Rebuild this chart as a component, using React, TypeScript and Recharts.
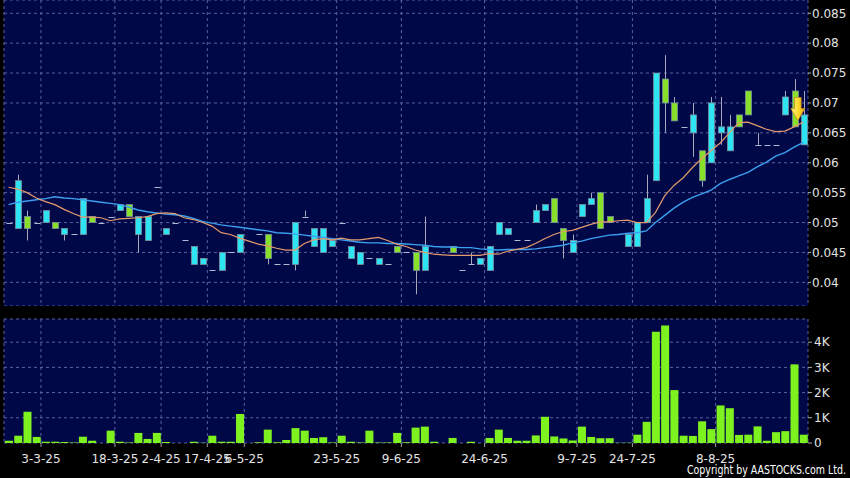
import React from 'react';
import { ComposedChart, Bar, Line, XAxis, YAxis, CartesianGrid, ReferenceDot } from 'recharts';

// ---- data (one entry per trading slot) ----
const opens: (number | null)[] = [
  0.050, 0.049, 0.051, 0.050, 0.050, 0.050, 0.048, 0.048, 0.048, 0.051,
  0.050, 0.051, 0.052, 0.053, 0.048, 0.047, 0.056, 0.048, 0.050, 0.047,
  0.043, 0.043, 0.042, 0.042, 0.045, 0.045, null, 0.048, 0.048, 0.043,
  0.043, 0.043, 0.051, 0.046, 0.045, 0.046, 0.050, 0.044, 0.043, 0.044,
  0.043, 0.043, 0.046, 0.045, 0.045, 0.042, null, null, 0.046, 0.042,
  0.043, 0.043, 0.042, 0.048, 0.048, 0.047, 0.047, 0.050, 0.052, 0.054,
  0.049, 0.045, 0.051, 0.053, 0.055, 0.051, null, 0.046, 0.046, 0.050,
  0.057, 0.074, 0.070, 0.066, 0.065, 0.062, 0.060, 0.065, 0.062, 0.068,
  0.072, 0.063, 0.063, 0.063, 0.068, 0.072, 0.063,
];
const highs: (number | null)[] = [
  0.050, 0.058, 0.052, 0.050, 0.052, 0.050, 0.049, 0.048, 0.054, 0.051,
  0.050, 0.051, 0.053, 0.053, 0.051, 0.051, 0.056, 0.049, 0.050, 0.047,
  0.046, 0.044, 0.042, 0.045, 0.045, 0.048, null, 0.048, 0.048, 0.043,
  0.043, 0.050, 0.052, 0.049, 0.049, 0.047, 0.050, 0.046, 0.045, 0.044,
  0.044, 0.043, 0.046, 0.045, 0.045, 0.051, null, null, 0.046, 0.042,
  0.045, 0.044, 0.046, 0.050, 0.049, 0.047, 0.047, 0.053, 0.053, 0.054,
  0.049, 0.048, 0.053, 0.055, 0.055, 0.051, null, 0.048, 0.050, 0.058,
  0.075, 0.078, 0.071, 0.066, 0.070, 0.062, 0.071, 0.071, 0.068, 0.068,
  0.072, 0.065, 0.063, 0.063, 0.072, 0.074, 0.072,
];
const lows: (number | null)[] = [
  0.050, 0.049, 0.047, 0.050, 0.050, 0.049, 0.047, 0.048, 0.048, 0.050,
  0.050, 0.051, 0.052, 0.051, 0.045, 0.047, 0.056, 0.048, 0.050, 0.047,
  0.043, 0.043, 0.042, 0.042, 0.045, 0.045, null, 0.048, 0.043, 0.043,
  0.043, 0.042, 0.051, 0.046, 0.045, 0.046, 0.050, 0.044, 0.043, 0.044,
  0.043, 0.043, 0.045, 0.045, 0.038, 0.042, null, null, 0.045, 0.042,
  0.043, 0.043, 0.042, 0.048, 0.048, 0.047, 0.047, 0.050, 0.052, 0.050,
  0.044, 0.045, 0.051, 0.053, 0.049, 0.050, null, 0.046, 0.046, 0.050,
  0.057, 0.065, 0.067, 0.066, 0.061, 0.056, 0.060, 0.063, 0.062, 0.066,
  0.068, 0.063, 0.063, 0.063, 0.068, 0.066, 0.063,
];
const closes: (number | null)[] = [
  0.050, 0.057, 0.049, 0.050, 0.052, 0.049, 0.049, 0.048, 0.054, 0.050,
  0.050, 0.051, 0.053, 0.051, 0.051, 0.051, 0.056, 0.049, 0.050, 0.047,
  0.046, 0.044, 0.042, 0.045, 0.045, 0.048, null, 0.048, 0.044, 0.043,
  0.043, 0.050, 0.051, 0.049, 0.049, 0.047, 0.050, 0.046, 0.045, 0.044,
  0.044, 0.043, 0.045, 0.045, 0.042, 0.046, null, null, 0.045, 0.042,
  0.043, 0.044, 0.046, 0.050, 0.049, 0.047, 0.047, 0.052, 0.053, 0.050,
  0.047, 0.047, 0.053, 0.054, 0.049, 0.050, null, 0.048, 0.050, 0.054,
  0.075, 0.070, 0.067, 0.066, 0.068, 0.057, 0.070, 0.066, 0.066, 0.066,
  0.068, 0.063, 0.063, 0.063, 0.071, 0.066, 0.068,
];
const ma10: number[] = [
  0.0559, 0.0556, 0.0550, 0.0541, 0.0535, 0.0530, 0.0522, 0.0515, 0.0509, 0.0509,
  0.0508, 0.0503, 0.0506, 0.0507, 0.0508, 0.0510, 0.0515, 0.0516, 0.0515, 0.0508,
  0.0505, 0.0500, 0.0494, 0.0483, 0.0480, 0.0474, 0.0469, 0.0464, 0.0461, 0.0457,
  0.0454, 0.0454, 0.0465, 0.0471, 0.0473, 0.0471, 0.0474, 0.0471, 0.0471, 0.0473,
  0.0475, 0.0470, 0.0464, 0.0460, 0.0454, 0.0450, 0.0447, 0.0446, 0.0445, 0.0445,
  0.0445, 0.0445, 0.0448, 0.0447, 0.0452, 0.0455, 0.0458, 0.0465, 0.0473, 0.0480,
  0.0485, 0.0487, 0.0492, 0.0497, 0.0501, 0.0501, 0.0503, 0.0504, 0.0500, 0.0500,
  0.0517, 0.0545, 0.0562, 0.0575, 0.0592, 0.0607, 0.0620, 0.0633, 0.0650, 0.0667,
  0.0668, 0.0662, 0.0656, 0.0652, 0.0653, 0.0660, 0.0668,
];
const ma20: number[] = [
  0.0530, 0.0534, 0.0536, 0.0538, 0.0540, 0.0543, 0.0541, 0.0540, 0.0538, 0.0536,
  0.0534, 0.0532, 0.0530, 0.0526, 0.0521, 0.0518, 0.0516, 0.0514, 0.0513, 0.0511,
  0.0507, 0.0502, 0.0499, 0.0496, 0.0494, 0.0492, 0.0490, 0.0488, 0.0486, 0.0483,
  0.0482, 0.0481, 0.0479, 0.0477, 0.0475, 0.0473, 0.0471, 0.0469, 0.0467, 0.0466,
  0.0466, 0.0465, 0.0465, 0.0464, 0.0463, 0.0462, 0.0460, 0.0459, 0.0459, 0.0458,
  0.0458, 0.0456, 0.0455, 0.0454, 0.0455, 0.0455, 0.0455, 0.0456, 0.0458, 0.0460,
  0.0462, 0.0466, 0.0469, 0.0473, 0.0476, 0.0479, 0.0480, 0.0482, 0.0483, 0.0486,
  0.0500, 0.0512, 0.0524, 0.0534, 0.0542, 0.0548, 0.0554, 0.0565, 0.0572, 0.0578,
  0.0584, 0.0593, 0.0601, 0.0611, 0.0617, 0.0626, 0.0634,
];
const volumes: number[] = [
  90, 290, 1240, 240, 50, 50, 40, 20, 250, 90,
  0, 490, 50, 20, 400, 160, 400, 40, 0, 0,
  50, 10, 290, 50, 50, 1150, 0, 30, 530, 30,
  120, 590, 490, 200, 230, 20, 290, 50, 20, 490,
  20, 20, 400, 30, 610, 650, 50, 0, 200, 0,
  50, 0, 200, 530, 200, 90, 90, 300, 1040, 260,
  180, 100, 650, 240, 190, 190, 10, 10, 330, 840,
  4410, 4660, 2100, 290, 280, 860, 550, 1490, 1380, 320,
  330, 660, 90, 430, 470, 3120, 330,
];

// x-axis date ticks (slot boundary before the dated slot)
const tickSlots = [4, 12, 17, 22, 26, 36, 43, 52, 62, 68, 77];
const tickLabels = ['3-3-25', '18-3-25', '2-4-25', '17-4-25', '6-5-25', '23-5-25', '9-6-25', '24-6-25', '9-7-25', '24-7-25', '8-8-25'];
const priceTicks = [0.04, 0.045, 0.05, 0.055, 0.06, 0.065, 0.07, 0.075, 0.08, 0.085];
const volumeTicks = [0, 1000, 2000, 3000, 4000];
const priceDomain = [0.03604, 0.08722];
const volumeDomain = [0, 4920];
const arrowSlot = 85.4;
const arrowTop = 0.0709;

const rows = opens.map((o, i) => ({
  i,
  open: o,
  high: highs[i],
  low: lows[i],
  close: closes[i],
  ma10: ma10[i],
  ma20: ma20[i],
  vol: volumes[i],
}));

const tickPos = tickSlots.map((s) => s - 0.5);
const labelOf: Record<string, string> = {};
tickPos.forEach((p, k) => { labelOf[String(p)] = tickLabels[k]; });

const NAVY = '#000848';
const GRID = '#5a62a0';
const UP = '#2ee4f2';
const DOWN = '#88e02a';
const WICK = '#a8a8bc';
const FONT = 'DejaVu Sans, Verdana, sans-serif';
const xDomain = [-0.5, opens.length - 0.5];

const Candle = (props: any) => {
  const { x, y, width, height, payload } = props;
  if (!payload || payload.open == null) return <g />;
  const { open, close, high, low } = payload;
  const top = Math.min(y, y + height);
  const h = Math.abs(height);
  const cx = Math.round(x + width / 2) + 0.5;
  const per = high > low ? h / (high - low) : 0;
  const py = (v: number) => top + (high - v) * per;
  const half = 3;
  const wick = high > low ? (
    <line x1={cx} x2={cx} y1={py(high)} y2={py(low)} stroke={WICK} strokeWidth={1} />
  ) : null;
  if (open === close) {
    const yy = Math.round(py(open)) + 0.5;
    return (
      <g>
        {wick}
        <line x1={cx - half} x2={cx + half} y1={yy} y2={yy} stroke="#b4b8d0" strokeWidth={1} />
      </g>
    );
  }
  const bt = py(Math.max(open, close));
  const bb = py(Math.min(open, close));
  return (
    <g>
      {wick}
      <rect x={cx - half} y={bt} width={half * 2} height={Math.max(bb - bt, 1)}
        fill={close > open ? UP : DOWN} stroke="#7890a0" strokeWidth={0.8} />
    </g>
  );
};

const Arrow = (props: any) => {
  const { cx, cy } = props;
  if (cx == null || cy == null) return <g />;
  return (
    <g>
      <defs>
        <linearGradient id="arrowGrad" x1="0" y1="0" x2="1" y2="0">
          <stop offset="0" stopColor="#fff48a" />
          <stop offset="0.55" stopColor="#ffd82a" />
          <stop offset="1" stopColor="#e0a018" />
        </linearGradient>
      </defs>
      <path
        d={`M${cx - 3.3},${cy} L${cx + 3.3},${cy} L${cx + 3.3},${cy + 11} L${cx + 7},${cy + 11} L${cx},${cy + 23} L${cx - 7},${cy + 11} L${cx - 3.3},${cy + 11} Z`}
        fill="url(#arrowGrad)" stroke="#c8901a" strokeWidth={0.8}
      />
    </g>
  );
};

const axisTick = { fill: '#e4e4e4', fontSize: 12, fontFamily: FONT };

export default function App() {
  return (
    <div style={{ position: 'absolute', top: 0, left: 0, width: 850, height: 478, background: '#000', overflow: 'hidden' }}>
      <div style={{ position: 'absolute', top: 0, left: 0 }}>
        <ComposedChart width={850} height={306} data={rows} margin={{ top: 0, right: 0, bottom: 0, left: 4 }}>
          <CartesianGrid fill={NAVY} stroke={GRID} strokeDasharray="3 3" />
          <XAxis type="number" dataKey="i" domain={xDomain} ticks={tickPos} hide allowDataOverflow />
          <YAxis orientation="right" width={42} domain={priceDomain} ticks={priceTicks} allowDataOverflow
            axisLine={false} tickSize={3} tickMargin={1} tickLine={{ stroke: '#b0b0b0' }}
            tick={axisTick} tickFormatter={(v: number) => String(v)} />
          <Bar dataKey={(d: any) => (d.open == null ? null : [d.low, d.high])} barSize={6}
            shape={Candle} isAnimationActive={false} />
          <Line type="linear" dataKey="ma20" stroke="#3c9ff0" strokeWidth={1.4} dot={false} isAnimationActive={false} />
          <Line type="linear" dataKey="ma10" stroke="#e49a6c" strokeWidth={1.2} dot={false} isAnimationActive={false} />
          <ReferenceDot x={arrowSlot} y={arrowTop} r={0} shape={Arrow} ifOverflow="visible" />
        </ComposedChart>
      </div>
      <div style={{ position: 'absolute', top: 312, left: 0 }}>
        <ComposedChart width={850} height={166} data={rows} margin={{ top: 7, right: 0, bottom: 0, left: 4 }}>
          <CartesianGrid fill={NAVY} stroke={GRID} strokeDasharray="3 3" />
          <XAxis type="number" dataKey="i" domain={xDomain} ticks={tickPos} allowDataOverflow height={35}
            axisLine={false} tickSize={4} tickMargin={7} tickLine={{ stroke: '#9a9a9a' }}
            tick={axisTick} tickFormatter={(v: number) => labelOf[String(v)] ?? ''} interval={0} />
          <YAxis orientation="right" width={42} domain={volumeDomain} ticks={volumeTicks} allowDataOverflow
            axisLine={false} tickSize={4} tickMargin={2} tickLine={{ stroke: '#b0b0b0' }}
            tick={axisTick} tickFormatter={(v: number) => (v === 0 ? '0' : `${v / 1000}K`)} />
          <Bar dataKey="vol" barSize={8} fill="#7ef21e" isAnimationActive={false} />
        </ComposedChart>
      </div>
      <svg width={850} height={478} style={{ position: 'absolute', top: 0, left: 0, pointerEvents: 'none' }}>
        <text x={846} y={474} textAnchor="end" fill="#ffffff" fontSize={12} fontFamily={FONT}
          textLength={159} lengthAdjust="spacingAndGlyphs">Copyright by AASTOCKS.com Ltd.</text>
      </svg>
    </div>
  );
}
